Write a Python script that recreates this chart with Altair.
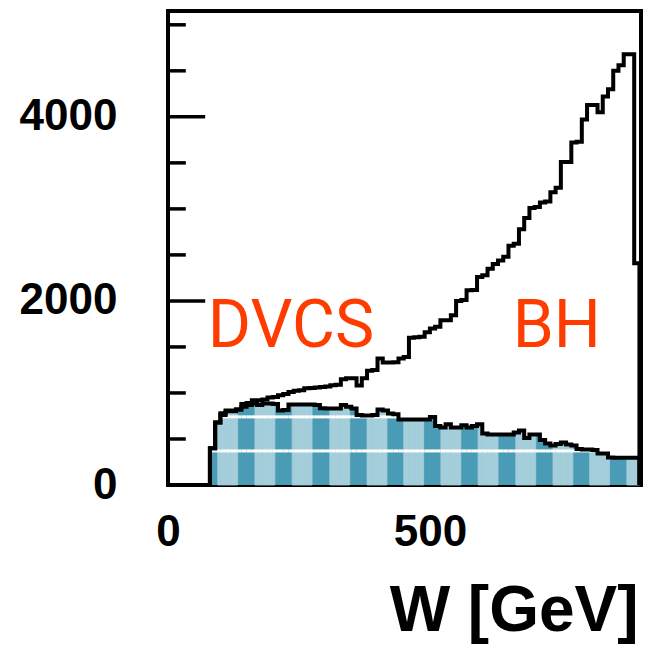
import altair as alt
import pandas as pd

# ---------------- data ----------------
W_START = 80          # first bin lower edge [GeV]
W_STEP = 10           # bin width [GeV]

# total (DVCS + BH) histogram, one value per 10 GeV bin from 80 to 900 GeV
total_counts = [
    400, 680, 780, 810, 810, 820, 880, 890, 920, 920,
    930, 950, 955, 975, 990, 1010, 1025, 1030, 1050, 1055,
    1060, 1065, 1070, 1085, 1090, 1150, 1160, 1160, 1080, 1160,
    1240, 1250, 1375, 1330, 1330, 1335, 1375, 1390, 1600, 1605,
    1610, 1660, 1700, 1720, 1790, 1790, 1845, 2000, 2010, 2115,
    2120, 2260, 2280, 2350, 2400, 2440, 2480, 2600, 2620, 2780,
    2900, 3010, 3020, 3070, 3080, 3180, 3230, 3510, 3510, 3720,
    3730, 3970, 4130, 4130, 4050, 4220, 4300, 4500, 4560, 4680,
    4680, 2410,
]

# DVCS contribution (filled histogram)
dvcs_counts = [
    400, 680, 760, 800, 800, 820, 850, 870, 885, 870,
    885, 885, 880, 810, 815, 875, 875, 875, 875, 875,
    870, 835, 832, 832, 832, 870, 850, 832, 760, 756,
    756, 760, 820, 810, 778, 770, 713, 713, 713, 713,
    713, 713, 740, 640, 626, 660, 626, 626, 650, 626,
    640, 660, 560, 550, 550, 550, 550, 550, 570, 593,
    510, 550, 550, 490, 450, 430, 445, 462, 440, 430,
    390, 386, 386, 380, 343, 343, 300, 295, 295, 295,
    295, 295,
]

x_label_values = [0, 500]
y_label_values = [0, 2000, 4000]
y_tick_values = [500, 1000, 1500, 2000, 2500, 3000, 3500, 4000, 4500, 5000]
y_major_ticks = [2000, 4000]

# hatch (checker) columns of the DVCS fill: start positions in GeV
checker_starts = [95, 166, 237, 309, 380, 450, 521, 592, 664, 735, 805, 876]
# white horizontal stripes of the DVCS fill (in counts)
stripe_levels = [370, 740]

label_texts = ["DVCS", "BH"]
label_w = [76, 658]
label_n = [1497, 1497]

# ---------------- styles ----------------
TEAL = "#4a9bb5"
CHECKER = "#a5cedb"
RED = "#ff3c00"
CHECKER_WIDTH = 38
MINOR_LEN = 34
MAJOR_LEN = 71
X_MAX = 903
Y_MAX = 5150

edges = [W_START + W_STEP * i for i in range(len(total_counts) + 1)]
W_END = edges[-1]

xs = alt.Scale(domain=[0, X_MAX], nice=False, zero=False)
ys = alt.Scale(domain=[0, Y_MAX], nice=False)

x_axis = alt.Axis(
    values=x_label_values, ticks=False, tickSize=0, domain=False, grid=False,
    labelFont="Liberation Sans", labelFontSize=44, labelFontWeight="bold",
    labelColor="black", labelPadding=25, labelFlush=False, labelOverlap=False,
    format="d",
    title="W [GeV]", titleFont="Liberation Sans", titleFontSize=64,
    titleFontWeight="bold", titleColor="black", titleX=470, titleY=145,
    titleAlign="right", titleBaseline="alphabetic", titleAnchor="end",
)
y_axis = alt.Axis(
    values=y_label_values, ticks=False, tickSize=0, domain=False, grid=False,
    labelFont="Liberation Sans", labelFontSize=44, labelFontWeight="bold",
    labelColor="black", labelPadding=51, labelFlush=False, labelOverlap=False,
    format="d",
)


def X(field):
    return alt.X(field, type="quantitative", scale=xs, axis=x_axis, title="W [GeV]")


def Y(field):
    return alt.Y(field, type="quantitative", scale=ys, axis=y_axis, title=None,
                 stack=False)


def outline_df(values):
    rows = [{"W": edges[0], "N": 0, "i": 0}]
    for k, v in enumerate(values):
        rows.append({"W": edges[k], "N": v, "i": k + 1})
    rows.append({"W": edges[-1], "N": values[-1], "i": len(values) + 1})
    rows.append({"W": edges[-1], "N": 0, "i": len(values) + 2})
    return pd.DataFrame(rows)


# filled DVCS area
area_rows = [{"W": edges[k], "N": v} for k, v in enumerate(dvcs_counts)]
area_rows.append({"W": W_END, "N": dvcs_counts[-1]})
area_df = pd.DataFrame(area_rows)

# checker columns: pieces of each column inside each histogram bin
chk_rows = []
for c0 in checker_starts:
    c1 = min(c0 + CHECKER_WIDTH, W_END)
    for k, v in enumerate(dvcs_counts):
        lo, hi = max(c0, edges[k]), min(c1, edges[k + 1])
        if hi > lo:
            chk_rows.append({"W": lo, "W2": hi, "N0": 0, "N": v})
chk_df = pd.DataFrame(chk_rows)

# white stripes
stripe_rows = []
for lvl in stripe_levels:
    for k, v in enumerate(dvcs_counts):
        if v > lvl + 10:
            stripe_rows.append({"W": edges[k], "W2": edges[k + 1], "N": lvl})
stripe_df = pd.DataFrame(stripe_rows)

# inner ticks on the left frame
tick_df = pd.DataFrame({
    "N": y_tick_values,
    "W0": [0] * len(y_tick_values),
    "W1": [MAJOR_LEN if t in y_major_ticks else MINOR_LEN for t in y_tick_values],
})

text_df = pd.DataFrame({"W": label_w, "N": label_n, "t": label_texts})

area = alt.Chart(area_df).mark_area(interpolate="step-after", color=TEAL).encode(
    x=X("W"), y=Y("N"))

checker = alt.Chart(chk_df).mark_rect(
    fill=CHECKER, stroke=CHECKER, strokeWidth=0.8
).encode(x=X("W"), x2="W2", y=Y("N0"), y2="N")

stripes = alt.Chart(stripe_df).mark_rule(color="white", strokeWidth=3).encode(
    x=X("W"), x2="W2", y=Y("N"))

dvcs_line = alt.Chart(outline_df(dvcs_counts)).mark_line(
    interpolate="step-after", color="black", strokeWidth=4).encode(
    x=X("W"), y=Y("N"), order="i:Q")

total_line = alt.Chart(outline_df(total_counts)).mark_line(
    interpolate="step-after", color="black", strokeWidth=4).encode(
    x=X("W"), y=Y("N"), order="i:Q")

ticks = alt.Chart(tick_df).mark_rule(color="black", strokeWidth=3.5).encode(
    x=X("W0"), x2="W1", y=Y("N"))

texts = alt.Chart(text_df).mark_text(
    font="Roboto", fontSize=66, color=RED, align="left", baseline="alphabetic"
).encode(x=X("W"), y=Y("N"), text="t:N")

chart = alt.layer(area, checker, stripes, dvcs_line, total_line, ticks, texts).properties(
    width=473, height=474,
    autosize=alt.AutoSizeParams(type="none"),
    padding={"left": 168, "top": 11, "right": 12, "bottom": 169},
    background="white",
).configure_view(stroke="black", strokeWidth=4)

chart.save("out.html", embed_options={"renderer": "svg", "actions": False})
